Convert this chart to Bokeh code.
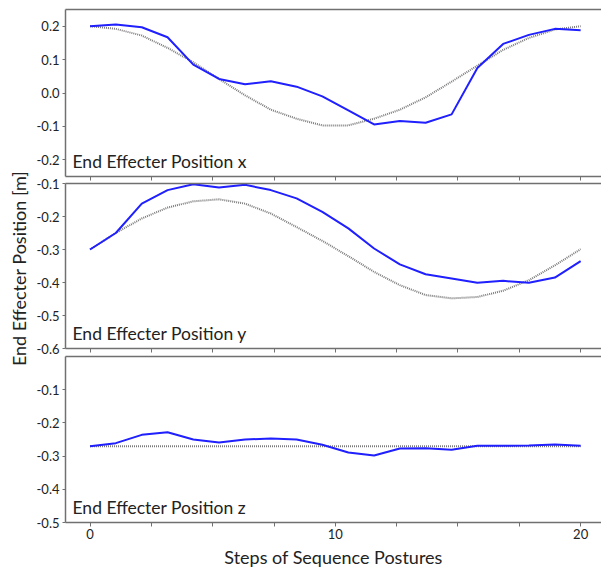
import math
from bokeh.plotting import figure
from bokeh.layouts import column, row
from bokeh.models import Range1d, LinearAxis, FixedTicker, PrintfTickFormatter, Label
from bokeh.embed import file_html
from bokeh.resources import INLINE

# ---- data ----
steps = [0.00, 1.05, 2.11, 3.16, 4.21, 5.26, 6.32, 7.37, 8.42, 9.47,
         10.53, 11.58, 12.63, 13.68, 14.74, 15.79, 16.84, 17.89, 18.95, 20.00]

x_actual = [0.200, 0.205, 0.197, 0.167, 0.085, 0.042, 0.026, 0.035, 0.019, -0.010,
            -0.052, -0.094, -0.084, -0.089, -0.064, 0.075, 0.147, 0.174, 0.192, 0.188]
x_target = [0.200, 0.192, 0.172, 0.135, 0.092, 0.042, -0.007, -0.050, -0.077, -0.097,
            -0.097, -0.077, -0.050, -0.013, 0.034, 0.082, 0.129, 0.165, 0.190, 0.200]

y_actual = [-0.300, -0.250, -0.161, -0.120, -0.102, -0.112, -0.104, -0.120, -0.145, -0.186,
            -0.236, -0.297, -0.345, -0.375, -0.388, -0.401, -0.395, -0.401, -0.385, -0.335]
y_target = [-0.300, -0.250, -0.206, -0.173, -0.154, -0.148, -0.161, -0.191, -0.232, -0.274,
            -0.320, -0.368, -0.408, -0.438, -0.448, -0.444, -0.425, -0.393, -0.348, -0.299]

z_actual = [-0.270, -0.261, -0.236, -0.228, -0.250, -0.259, -0.250, -0.247, -0.250, -0.266,
            -0.289, -0.298, -0.277, -0.276, -0.281, -0.269, -0.269, -0.268, -0.265, -0.269]
z_target = [-0.270] * 20

x_major_ticks = [0, 10, 20]
x_minor_ticks = [2.5, 5, 7.5, 12.5, 15, 17.5]
x_all_ticks = [0, 2.5, 5, 7.5, 10, 12.5, 15, 17.5, 20]

yticks_x = [-0.2, -0.1, 0.0, 0.1, 0.2]
yticks_y = [-0.6, -0.5, -0.4, -0.3, -0.2, -0.1]
yticks_z = [-0.5, -0.4, -0.3, -0.2, -0.1]

panel_titles = ["End Effecter Position x", "End Effecter Position y", "End Effecter Position z"]
x_title = "Steps of Sequence Postures"
y_title = "End Effecter Position [m]"

FONT = "Lato"
FRAME = "#707070"
TXT = "#222222"
BLUE = "#1f1fff"
GRAY = "#7a7a7a"

X_START, X_END = -1.0, 20.85
PANEL_W = 568
LABEL_W = 33
TOTAL_H = 572
OVERLAP = 10


def make_panel(actual, target, y0, y1, yticks, title, height, mb_top, mb_bottom, bottom_labels, overlap=0):
    p = figure(width=PANEL_W, height=height, output_backend="svg", toolbar_location=None,
               x_range=Range1d(X_START, X_END), y_range=Range1d(y0, y1),
               x_axis_location=None, y_axis_location=None,
               min_border_left=30, min_border_right=0,
               min_border_top=mb_top, min_border_bottom=mb_bottom)
    if overlap:
        p.margin = (-overlap, 0, 0, 0)
        p.border_fill_color = None
    else:
        p.border_fill_color = "white"
    p.outline_line_color = None
    p.xgrid.grid_line_color = None
    p.ygrid.grid_line_color = None
    p.background_fill_color = "white"

    # left axis
    ya = LinearAxis(ticker=FixedTicker(ticks=yticks),
                    formatter=PrintfTickFormatter(format="%.1f"))
    ya.axis_line_color = FRAME
    ya.axis_line_width = 1.5
    ya.major_tick_line_color = FRAME
    ya.major_tick_out = 3
    ya.major_tick_in = 0
    ya.minor_tick_line_color = None
    ya.major_label_standoff = 3
    ya.major_label_text_font = FONT
    ya.major_label_text_font_size = "13px"
    ya.major_label_text_color = TXT
    p.add_layout(ya, "left")

    # top border
    ta = LinearAxis(ticker=FixedTicker(ticks=[]))
    ta.axis_line_color = FRAME
    ta.axis_line_width = 1.5
    ta.major_tick_out = 0
    ta.major_tick_in = 0
    ta.minor_tick_line_color = None
    ta.major_label_standoff = 0
    p.add_layout(ta, "above")

    # bottom axis
    if bottom_labels:
        xa = LinearAxis(ticker=FixedTicker(ticks=x_major_ticks, minor_ticks=x_minor_ticks))
        xa.major_label_standoff = 2
        xa.major_label_text_font = FONT
        xa.major_label_text_font_size = "13px"
        xa.major_label_text_color = TXT
    else:
        xa = LinearAxis(ticker=FixedTicker(ticks=[], minor_ticks=x_all_ticks))
        xa.major_label_standoff = 0
    xa.axis_line_color = FRAME
    xa.axis_line_width = 1.5
    xa.major_tick_line_color = FRAME
    xa.minor_tick_line_color = FRAME
    xa.major_tick_out = 4
    xa.major_tick_in = 0
    xa.minor_tick_out = 4
    xa.minor_tick_in = 0
    p.add_layout(xa, "below")

    p.line(steps, target, line_color=GRAY, line_width=2, line_dash="1 1")
    p.line(steps, actual, line_color=BLUE, line_width=2)

    p.add_layout(Label(x=X_START, y=y0, x_offset=7, y_offset=15, text=title,
                       text_font=FONT, text_font_size="17.5px", text_color=TXT,
                       text_baseline="middle"))
    return p


p1 = make_panel(x_actual, x_target, -0.25, 0.25, yticks_x, panel_titles[0], 183, 9, 7, False)
p2 = make_panel(y_actual, y_target, -0.6, -0.1, yticks_y, panel_titles[1], 165 + 8 + OVERLAP,
                OVERLAP, 8, False, overlap=OVERLAP)
p3 = make_panel(z_actual, z_target, -0.5, 0.0, yticks_z, panel_titles[2], 166 + 23 + OVERLAP,
                OVERLAP, 23, True, overlap=OVERLAP)

# x-axis title strip below the bottom panel
xfig = figure(width=PANEL_W, height=27, output_backend="svg", toolbar_location=None,
              x_range=Range1d(X_START, X_END), y_range=Range1d(0, 27),
              x_axis_location=None, y_axis_location=None,
              min_border_left=30, min_border_right=0, min_border_top=0, min_border_bottom=0)
xfig.outline_line_color = None
xfig.xgrid.grid_line_color = None
xfig.ygrid.grid_line_color = None
xfig.add_layout(Label(x=(X_START + X_END) / 2, y=16, text=x_title,
                      text_align="center", text_baseline="middle",
                      text_font=FONT, text_font_size="18px", text_color=TXT))

# shared y-axis title strip on the left
yfig = figure(width=LABEL_W, height=TOTAL_H, output_backend="svg", toolbar_location=None,
              x_range=Range1d(0, LABEL_W), y_range=Range1d(0, TOTAL_H),
              x_axis_location=None, y_axis_location=None,
              min_border=0)
yfig.outline_line_color = None
yfig.xgrid.grid_line_color = None
yfig.ygrid.grid_line_color = None
yfig.add_layout(Label(x=18, y=TOTAL_H - 268, text=y_title, angle=math.pi / 2,
                      text_align="center", text_baseline="middle",
                      text_font=FONT, text_font_size="18px", text_color=TXT))

layout = row(yfig, column(p1, p2, p3, xfig, spacing=0), spacing=0)

with open("out.html", "w") as f:
    f.write(file_html(layout, INLINE))
